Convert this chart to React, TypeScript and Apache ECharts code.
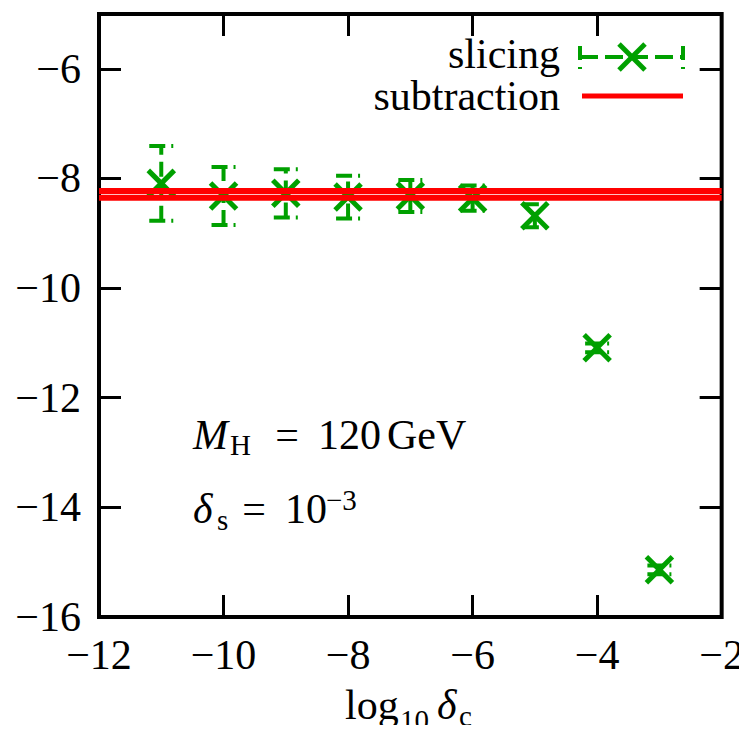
import React, { useEffect, useRef } from "react";
import * as echarts from "echarts";

// log10 of the collinear cut and the slicing results with their errors
const logDeltaC = [-11, -10, -9, -8, -7, -6, -5, -4, -3];
const slicingValues = [-8.09, -8.32, -8.27, -8.34, -8.32, -8.36, -8.68, -11.09, -15.14];
const slicingErrors = [0.68, 0.53, 0.44, 0.39, 0.29, 0.23, 0.21, 0.08, 0.08];

// subtraction result (independent of the cut) and its error
const subtractionValue = -8.29;
const subtractionError = 0.06;

// axis ranges and tick steps
const xRange = [-12, -2];
const yRange = [-16, -5];
const tickStep = 2;

const GREEN = "#00a000";
const RED = "#ff0000";
const FONT = "Liberation Serif";
const MAIN = 42;
const SMALL = 29;

const minus = (v: number) => (v < 0 ? "\u2212" + Math.abs(v) : String(v));

// text run placed by its baseline (zrender centres text vertically)
function run(text: string, x: number, baseline: number, size: number, italic = false, align = "left") {
  return {
    type: "text",
    x,
    y: baseline - size * 0.31,
    silent: true,
    style: {
      text,
      fill: "#000",
      fontFamily: FONT,
      fontSize: size,
      fontStyle: italic ? "italic" : "normal",
      align,
      verticalAlign: "middle",
    },
  };
}

function cross(cx: number, cy: number, h: number, w: number) {
  const st = { stroke: GREEN, lineWidth: w, lineCap: "butt" };
  return [
    { type: "line", shape: { x1: cx - h, y1: cy - h, x2: cx + h, y2: cy + h }, style: st },
    { type: "line", shape: { x1: cx - h, y1: cy + h, x2: cx + h, y2: cy - h }, style: st },
  ];
}

export default function App() {
  const ref = useRef<HTMLDivElement>(null);

  useEffect(() => {
    if (!ref.current) return;
    const chart = echarts.init(ref.current, undefined, { renderer: "svg" });

    const tickStyle = { inside: true, length: 22, lineStyle: { color: "#000", width: 3 } };
    const labelStyle = { color: "#000", fontFamily: FONT, fontSize: MAIN };

    const slicingData = logDeltaC.map((x, i) => [x, slicingValues[i], slicingErrors[i]]);

    const option: any = {
      animation: false,
      grid: {
        left: 99,
        right: 25,
        top: 14,
        bottom: 116,
        show: true,
        borderColor: "#000",
        borderWidth: 4,
        backgroundColor: "transparent",
      },
      xAxis: [
        {
          type: "value",
          min: xRange[0],
          max: xRange[1],
          interval: tickStep,
          position: "bottom",
          axisLine: { show: false },
          axisTick: tickStyle,
          splitLine: { show: false },
          axisLabel: { ...labelStyle, margin: 17, formatter: (v: number) => minus(v) },
        },
        {
          type: "value",
          min: xRange[0],
          max: xRange[1],
          interval: tickStep,
          position: "top",
          axisLine: { show: false },
          axisTick: tickStyle,
          splitLine: { show: false },
          axisLabel: { show: false },
        },
      ],
      yAxis: [
        {
          type: "value",
          min: yRange[0],
          max: yRange[1],
          interval: tickStep,
          position: "left",
          axisLine: { show: false },
          axisTick: tickStyle,
          splitLine: { show: false },
          axisLabel: {
            ...labelStyle,
            margin: 18,
            showMaxLabel: false,
            formatter: (v: number) => (v === yRange[1] ? "" : minus(v)),
          },
        },
        {
          type: "value",
          min: yRange[0],
          max: yRange[1],
          interval: tickStep,
          position: "right",
          axisLine: { show: false },
          axisTick: tickStyle,
          splitLine: { show: false },
          axisLabel: { show: false },
        },
      ],
      series: [
        {
          name: "slicing",
          type: "custom",
          xAxisIndex: 0,
          yAxisIndex: 0,
          z: 2,
          data: slicingData,
          renderItem: (params: any, api: any) => {
            const x = api.value(0);
            const y = api.value(1);
            const e = api.value(2);
            const c = api.coord([x, y]);
            const lo = api.coord([x, y - e]);
            const hi = api.coord([x, y + e]);
            const cap = 12;
            const dashed = { stroke: GREEN, lineWidth: 4, lineDash: [15, 7], fill: null };
            return {
              type: "group",
              children: [
                { type: "line", shape: { x1: c[0], y1: lo[1], x2: c[0], y2: hi[1] }, style: dashed },
                { type: "line", shape: { x1: c[0] - cap, y1: hi[1], x2: c[0] + cap, y2: hi[1] }, style: { ...dashed, lineDash: [16, 6] } },
                { type: "line", shape: { x1: c[0] - cap, y1: lo[1], x2: c[0] + cap, y2: lo[1] }, style: { ...dashed, lineDash: [16, 6] } },
                ...cross(c[0], c[1], 13, 5),
              ],
            };
          },
        },
        {
          name: "subtraction",
          type: "line",
          z: 3,
          showSymbol: false,
          symbol: "none",
          lineStyle: { color: RED, width: 6 },
          data: [
            [xRange[0], subtractionValue + subtractionError],
            [xRange[1], subtractionValue + subtractionError],
          ],
        },
        {
          name: "subtraction band",
          type: "line",
          z: 3,
          showSymbol: false,
          symbol: "none",
          lineStyle: { color: RED, width: 6 },
          data: [
            [xRange[0], subtractionValue - subtractionError],
            [xRange[1], subtractionValue - subtractionError],
          ],
        },
      ],
      graphic: [
        // key
        run("slicing", 560, 67, MAIN, false, "right"),
        {
          type: "line",
          shape: { x1: 580, y1: 57, x2: 685, y2: 57 },
          style: { stroke: GREEN, lineWidth: 4, lineDash: [18, 7] },
        },
        {
          type: "line",
          shape: { x1: 580, y1: 46, x2: 580, y2: 69 },
          style: { stroke: GREEN, lineWidth: 4, lineDash: [14, 7] },
        },
        {
          type: "line",
          shape: { x1: 683, y1: 46, x2: 683, y2: 69 },
          style: { stroke: GREEN, lineWidth: 4, lineDash: [14, 7] },
        },
        ...cross(632, 57, 13, 5),
        run("subtraction", 560, 109, MAIN, false, "right"),
        {
          type: "line",
          shape: { x1: 582, y1: 96, x2: 683, y2: 96 },
          style: { stroke: RED, lineWidth: 5 },
        },
        // Higgs mass and soft cut
        run("M", 193, 448, MAIN, true),
        run("H", 230, 454, SMALL),
        run("=", 287, 448, MAIN, false, "center"),
        run("120", 318, 448, MAIN),
        run("GeV", 387, 448, MAIN),
        run("\u03b4", 193, 522, MAIN, true),
        run("s", 217, 529, SMALL),
        run("=", 254, 522, MAIN, false, "center"),
        run("10", 285, 522, MAIN),
        run("\u22123", 326, 509, SMALL),
        // x axis title
        run("log", 345, 718, MAIN),
        run("10", 400, 729, SMALL),
        run("\u03b4", 437, 718, MAIN, true),
        run("c", 459, 725, SMALL),
      ],
    };

    chart.setOption(option);
    return () => chart.dispose();
  }, []);

  return <div ref={ref} style={{ width: 747, height: 733, margin: -8 }} />;
}
